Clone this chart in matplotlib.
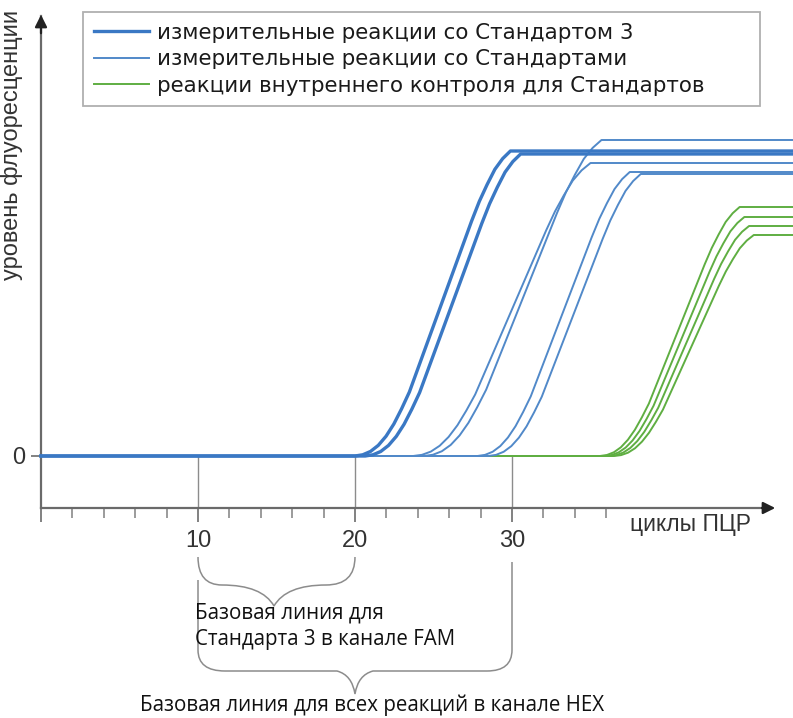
import matplotlib
matplotlib.use("Agg")
import numpy as np
import matplotlib.pyplot as plt
from matplotlib.path import Path
from matplotlib.patches import PathPatch

# shape of one amplification curve:
# fraction of the run (0..1) -> fraction of the plateau (0..1)
profile_u = [0.0, 0.05, 0.10, 0.15, 0.20, 0.25, 0.30, 0.35, 0.40, 0.50, 0.60,
             0.70, 0.75, 0.80, 0.85, 0.90, 0.95, 1.0]
profile_f = [0.0, 0.004, 0.015, 0.035, 0.065, 0.105, 0.155, 0.21, 0.28, 0.42, 0.56,
             0.70, 0.77, 0.835, 0.89, 0.94, 0.975, 1.0]

# Standard 3 (FAM), thick lines
std3_start = [20.0, 20.65]
std3_height = [305, 302]
std3_run = [9.9, 9.9]

# other Standards (FAM), thin lines
std_start = [23.7, 24.4, 27.8, 28.5]
std_height = [293, 316, 284, 282]
std_run = [11.3, 11.3, 9.7, 9.7]

# internal control (HEX)
ic_start = [35.6, 35.9, 36.2, 36.5]
ic_height = [249, 239, 230, 221]
ic_run = [8.9, 8.9, 8.9, 8.9]

labels = ["измерительные реакции со Стандартом 3",
          "измерительные реакции со Стандартами",
          "реакции внутреннего контроля для Стандартов"]

c_thick = "#3a78c4"
c_thin = "#5189c9"
c_green = "#5fae42"

px_per_cycle = 15.7
x_min = -41 / px_per_cycle
x_max = (793 - 41) / px_per_cycle
axis_y = -52
x_arrow = (778 - 41) / px_per_cycle


def curve(start, height, run):
    x = [0.0] + [start + run * u for u in profile_u] + [x_max]
    y = [0.0] + [height * f for f in profile_f] + [height]
    return x, y


fig = plt.figure(figsize=(7.93, 7.18), dpi=100)
ax = fig.add_axes([0, 0, 1, 1])
ax.set_xlim(x_min, x_max)
ax.set_ylim(456 - 718, 456)

handles = [None, None, None]
for s, h, r in zip(ic_start, ic_height, ic_run):
    x, y = curve(s, h, r)
    handles[2] = ax.plot(x, y, color=c_green, lw=1.4, zorder=2)[0]
for s, h, r in zip(std_start, std_height, std_run):
    x, y = curve(s, h, r)
    handles[1] = ax.plot(x, y, color=c_thin, lw=1.4, zorder=3)[0]
for s, h, r in zip(std3_start, std3_height, std3_run):
    x, y = curve(s, h, r)
    handles[0] = ax.plot(x, y, color=c_thick, lw=2.4, zorder=4)[0]

# axes as arrows
for side in ["top", "right"]:
    ax.spines[side].set_visible(False)
ax.spines["left"].set_position(("data", 0))
ax.spines["left"].set_bounds(axis_y, 440)
ax.spines["bottom"].set_position(("data", axis_y))
ax.spines["bottom"].set_bounds(0, x_arrow - 0.5)
for side in ["left", "bottom"]:
    ax.spines[side].set_color("#6a6a6a")
    ax.spines[side].set_linewidth(1.6)
ax.annotate("", xy=(x_arrow, axis_y), xytext=(x_arrow - 1.2, axis_y),
            arrowprops=dict(arrowstyle="-|>", color="#222222", lw=1.6, mutation_scale=18))
ax.annotate("", xy=(0, 444), xytext=(0, 420),
            arrowprops=dict(arrowstyle="-|>", color="#222222", lw=1.6, mutation_scale=18))

ax.set_xticks([0, 10, 20, 30])
ax.set_xticklabels(["", "10", "20", "30"])
ax.set_xticks([c for c in range(2, 37, 2) if c % 10 != 0], minor=True)
ax.tick_params(axis="x", which="major", direction="out", length=10, width=1.3,
               color="#777777", pad=6, labelsize=17, labelcolor="#333333")
ax.tick_params(axis="x", which="minor", direction="out", length=7, width=1.2,
               color="#8a8a8a")
for t in ax.get_xticklabels():
    t.set_fontfamily("Liberation Sans")
ax.set_yticks([0])
ax.set_yticklabels(["0"], fontfamily="Liberation Sans")
ax.tick_params(axis="y", direction="out", length=7, width=1.3, color="#777777",
               pad=4, labelsize=17, labelcolor="#333333")

ax.vlines([10, 20, 30], axis_y, 0, color="#8c8c8c", lw=1.0, zorder=1)

ax.text((12 - 41) / px_per_cycle, 311, "уровень флуоресценции", rotation=90,
        ha="center", va="center", fontsize=17, color="#333333",
        fontfamily="Liberation Sans")
ax.text((630 - 41) / px_per_cycle, -69, "циклы ПЦР", ha="left", va="center",
        fontsize=16.5, color="#333333", fontfamily="Liberation Sans")


def brace(pts_px):
    verts = [((px - 41) / px_per_cycle, 456 - py) for px, py in pts_px]
    codes = [Path.MOVETO] + [Path.CURVE3, Path.CURVE3] * ((len(verts) - 1) // 2)
    ax.add_patch(PathPatch(Path(verts, codes), fill=False, edgecolor="#8c8c8c",
                           lw=1.1, clip_on=False))


# small brace 10..20
brace([(198, 557), (198, 585), (222, 585), (262, 585), (274, 606),
       (286, 585), (326, 585), (355, 585), (355, 557)])
# big brace 10..30
brace([(198, 580), (198, 615), (198, 650), (198, 671), (225, 671),
       (300, 671), (337, 671), (352, 675), (355, 694),
       (358, 675), (373, 671), (430, 671), (487, 671), (512, 671), (512, 650),
       (512, 605), (512, 562)])

tfont = dict(fontsize=14.8, color="#111111", fontfamily="Open Sans")
ax.text((195 - 41) / px_per_cycle, -157, "Базовая линия для", ha="left", va="center", **tfont)
ax.text((195 - 41) / px_per_cycle, -184, "Стандарта 3 в канале FAM", ha="left", va="center", **tfont)
ax.text((372 - 41) / px_per_cycle, -249, "Базовая линия для всех реакций в канале HEX",
        ha="center", va="center", **tfont)

leg = ax.legend(handles, labels, loc="upper left",
                bbox_to_anchor=(83 / 793, 1 - 12 / 718, 677 / 793, 0.0),
                mode="expand", borderaxespad=0, handlelength=2.6,
                handletextpad=0.35, labelspacing=0.3, borderpad=0.5,
                fancybox=False, framealpha=1, prop={"family": "DejaVu Sans", "size": 15.4})
leg.get_frame().set_edgecolor("#b0b0b0")
leg.get_frame().set_linewidth(1.3)
for t in leg.get_texts():
    t.set_color("#1a1a1a")

fig.savefig("out.png", dpi=100)
